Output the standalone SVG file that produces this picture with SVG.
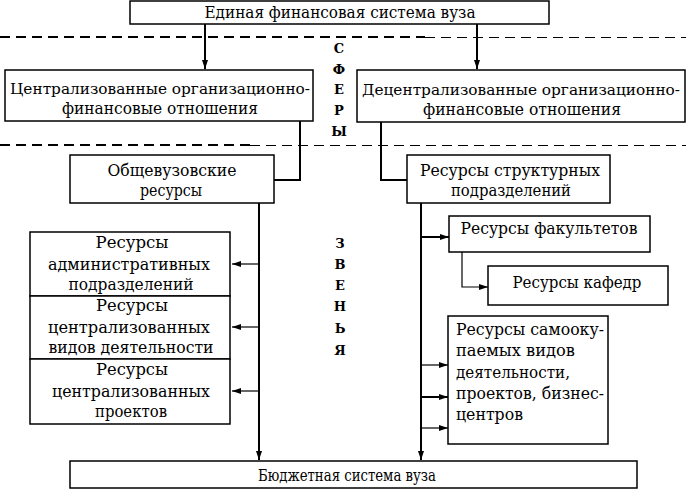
<svg xmlns="http://www.w3.org/2000/svg" width="686" height="490" viewBox="0 0 686 490" font-family="DejaVu Serif, Liberation Serif, Times New Roman, serif">
<defs>
<marker id="ah" markerWidth="10" markerHeight="8" refX="9" refY="4" orient="auto" markerUnits="userSpaceOnUse">
<path d="M0,1 L9,4 L0,7 Z" fill="#000"/>
</marker>
<style>
.box{fill:#fff;stroke:#000;stroke-width:1.5}
.t{font-size:17px;fill:#000}
.s{font-size:15.5px}
.c{text-anchor:middle}
.v{font-size:13px;font-weight:bold;fill:#000;text-anchor:middle}
.ln{fill:none;stroke:#000;stroke-width:2}
.ln1{fill:none;stroke:#000;stroke-width:1.2}
.dash{stroke:#000;stroke-dasharray:10,6}
</style>
</defs>
<g id="separators">
<line class="dash" x1="0" y1="37" x2="425" y2="37" stroke-width="2.2"/>
<line class="dash" x1="425" y1="37.5" x2="686" y2="37.5" stroke-width="1"/>
<line class="dash" x1="0" y1="145" x2="250" y2="145" stroke-width="2.2"/>
<line class="dash" x1="250" y1="145.5" x2="686" y2="145.5" stroke-width="1"/>
</g>
<g id="labels">
<text class="v" x="339" y="53">С</text>
<text class="v" x="339" y="74">Ф</text>
<text class="v" x="339" y="94">Е</text>
<text class="v" x="339" y="115">Р</text>
<text class="v" x="339" y="136">Ы</text>
<text class="v" x="340" y="248">З</text>
<text class="v" x="340" y="269">В</text>
<text class="v" x="340" y="290">Е</text>
<text class="v" x="340" y="311">Н</text>
<text class="v" x="340" y="333">Ь</text>
<text class="v" x="340" y="355">Я</text>
</g>
<g id="connectors">
<line class="ln" x1="205" y1="24" x2="205" y2="69" marker-end="url(#ah)"/>
<line class="ln" x1="477" y1="24" x2="477" y2="69" marker-end="url(#ah)"/>
<polyline class="ln" points="300,121 300,180 274,180"/>
<polyline class="ln" points="381,122 381,180 407,180"/>
<line class="ln" x1="259" y1="203" x2="259" y2="460" marker-end="url(#ah)"/>
<line class="ln1" x1="259" y1="264" x2="232" y2="264" marker-end="url(#ah)"/>
<line class="ln1" x1="259" y1="327" x2="232" y2="327" marker-end="url(#ah)"/>
<line class="ln1" x1="259" y1="391" x2="232" y2="391" marker-end="url(#ah)"/>
<line class="ln" x1="421" y1="203" x2="421" y2="460" marker-end="url(#ah)"/>
<line class="ln" x1="421" y1="237" x2="449" y2="237" marker-end="url(#ah)"/>
<polyline class="ln1" points="462,252 462,287 488,287" marker-end="url(#ah)"/>
<line class="ln1" x1="421" y1="365" x2="448" y2="365" marker-end="url(#ah)"/>
<line class="ln" x1="421" y1="397" x2="448" y2="397" marker-end="url(#ah)"/>
<line class="ln1" x1="421" y1="428" x2="448" y2="428" marker-end="url(#ah)"/>
</g>
<g id="n-top">
<rect class="box" x="130" y="1" width="419" height="23"/>
<text class="t c" x="340" y="18" textLength="271" lengthAdjust="spacingAndGlyphs">Единая финансовая система вуза</text>
</g>
<g id="n-central">
<rect class="box" x="5" y="70" width="308" height="51"/>
<text class="t s c" x="160" y="94" textLength="300" lengthAdjust="spacingAndGlyphs">Централизованные организационно-</text>
<text class="t c" x="160" y="114" textLength="196" lengthAdjust="spacingAndGlyphs">финансовые отношения</text>
</g>
<g id="n-decentral">
<rect class="box" x="357" y="70" width="328" height="52"/>
<text class="t s c" x="521" y="95" textLength="318" lengthAdjust="spacingAndGlyphs">Децентрализованные организационно-</text>
<text class="t c" x="522" y="115" textLength="198" lengthAdjust="spacingAndGlyphs">финансовые отношения</text>
</g>
<g id="n-obsh">
<rect class="box" x="70" y="155" width="204" height="48"/>
<text class="t c" x="172" y="176" textLength="129" lengthAdjust="spacingAndGlyphs">Общевузовские</text>
<text class="t c" x="171" y="196" textLength="62" lengthAdjust="spacingAndGlyphs">ресурсы</text>
</g>
<g id="n-struct">
<rect class="box" x="407" y="155" width="203" height="48"/>
<text class="t c" x="510" y="176" textLength="180" lengthAdjust="spacingAndGlyphs">Ресурсы структурных</text>
<text class="t c" x="511" y="196" textLength="120" lengthAdjust="spacingAndGlyphs">подразделений</text>
</g>
<g id="n-fac">
<rect class="box" x="449" y="216" width="201" height="36"/>
<text class="t c" x="549" y="234" textLength="177" lengthAdjust="spacingAndGlyphs">Ресурсы факультетов</text>
</g>
<g id="n-kaf">
<rect class="box" x="488" y="266" width="180" height="39"/>
<text class="t c" x="577" y="288" textLength="129" lengthAdjust="spacingAndGlyphs">Ресурсы кафедр</text>
</g>
<g id="n-adm">
<rect class="box" x="30" y="232" width="200" height="64"/>
<text class="t c" x="132" y="248" textLength="73" lengthAdjust="spacingAndGlyphs">Ресурсы</text>
<text class="t c" x="129" y="270" textLength="162" lengthAdjust="spacingAndGlyphs">административных</text>
<text class="t c" x="131" y="290" textLength="125" lengthAdjust="spacingAndGlyphs">подразделений</text>
</g>
<g id="n-vid">
<rect class="box" x="30" y="296" width="200" height="63"/>
<text class="t c" x="132" y="311" textLength="72" lengthAdjust="spacingAndGlyphs">Ресурсы</text>
<text class="t c" x="129" y="333" textLength="162" lengthAdjust="spacingAndGlyphs">централизованных</text>
<text class="t c" x="131" y="353" textLength="165" lengthAdjust="spacingAndGlyphs">видов деятельности</text>
</g>
<g id="n-proj">
<rect class="box" x="30" y="359" width="200" height="65"/>
<text class="t c" x="132" y="375" textLength="72" lengthAdjust="spacingAndGlyphs">Ресурсы</text>
<text class="t c" x="131" y="397" textLength="158" lengthAdjust="spacingAndGlyphs">централизованных</text>
<text class="t c" x="131" y="417" textLength="72" lengthAdjust="spacingAndGlyphs">проектов</text>
</g>
<g id="n-self">
<rect class="box" x="448" y="316" width="160" height="128"/>
<text class="t" x="456" y="335" textLength="148" lengthAdjust="spacingAndGlyphs">Ресурсы самооку-</text>
<text class="t" x="456" y="356" textLength="119" lengthAdjust="spacingAndGlyphs">паемых видов</text>
<text class="t" x="456" y="378" textLength="114" lengthAdjust="spacingAndGlyphs">деятельности,</text>
<text class="t" x="456" y="399" textLength="148" lengthAdjust="spacingAndGlyphs">проектов, бизнес-</text>
<text class="t" x="456" y="420" textLength="67" lengthAdjust="spacingAndGlyphs">центров</text>
</g>
<g id="n-budget">
<rect class="box" x="70" y="461" width="567" height="27"/>
<text class="t c" x="347" y="481" textLength="178" lengthAdjust="spacingAndGlyphs">Бюджетная система вуза</text>
</g>
</svg>
